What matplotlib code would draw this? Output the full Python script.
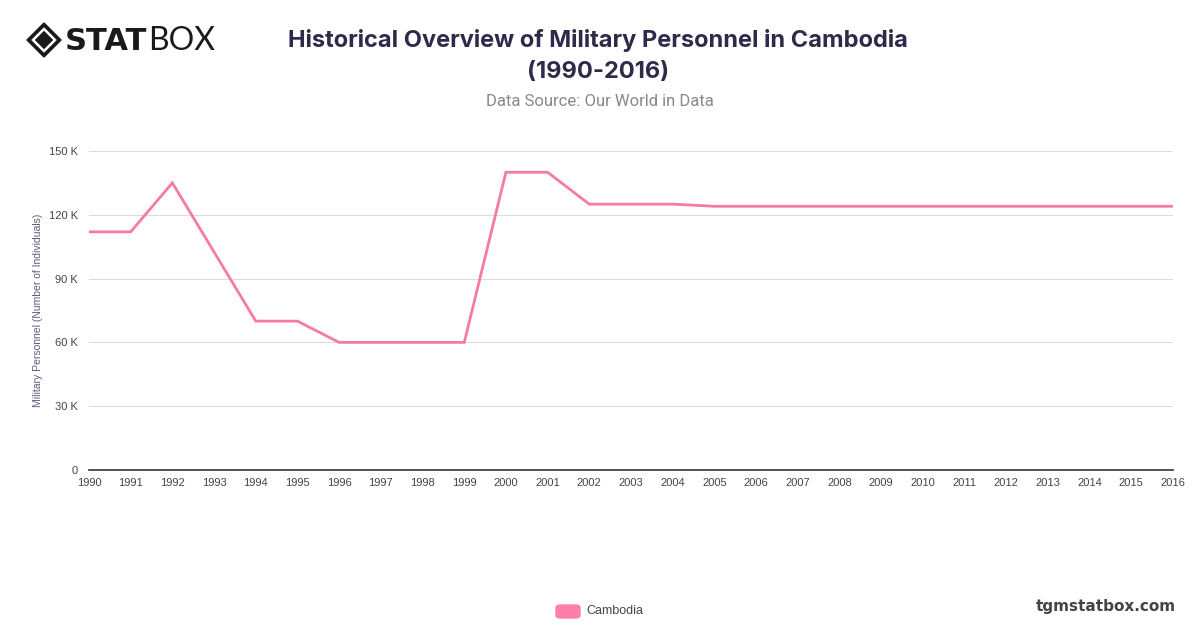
import matplotlib
matplotlib.use("Agg")
import matplotlib.pyplot as plt
from matplotlib.patches import Polygon, FancyBboxPatch
from matplotlib.ticker import FuncFormatter, MultipleLocator

years = list(range(1990, 2017))
personnel = [112000, 112000, 135000, 102500, 70000, 70000, 60000, 60000, 60000, 60000,
             140000, 140000, 125000, 125000, 125000, 124000, 124000, 124000, 124000, 124000,
             124000, 124000, 124000, 124000, 124000, 124000, 124000]
series_name = "Cambodia"
title = "Historical Overview of Military Personnel in Cambodia\n(1990-2016)"
subtitle = "Data Source: Our World in Data"
ylabel = "Military Personnel (Number of Individuals)"

W, H = 1200, 628
fig = plt.figure(figsize=(12, 6.28), dpi=100)
ax = fig.add_axes([89 / W, 1 - 470 / H, (1173 - 89) / W, (470 - 151) / H])

line_color = "#f57ba6"
ax.plot(years, personnel, color=line_color, lw=2.0, solid_joinstyle="miter", zorder=3)

ax.set_xlim(1990, 2016)
ax.set_ylim(0, 150000)
ax.set_xticks(years)
ax.yaxis.set_major_locator(MultipleLocator(30000))
ax.yaxis.set_major_formatter(FuncFormatter(lambda v, p: "0" if v == 0 else f"{int(v/1000)} K"))
ax.grid(axis="y", color="#dcdcdc", lw=0.8)
ax.set_axisbelow(True)
for s in ["top", "right", "left"]:
    ax.spines[s].set_visible(False)
ax.spines["bottom"].set_color("#333333")
ax.spines["bottom"].set_linewidth(1.2)
ax.tick_params(axis="both", length=0, labelsize=8, labelcolor="#444444", pad=6)
ax.tick_params(axis="y", pad=8)
for lbl in ax.get_xticklabels() + ax.get_yticklabels():
    lbl.set_family("Liberation Sans")
ax.set_ylabel(ylabel, fontsize=7.5, color="#5c5c7a", labelpad=4, family="Liberation Sans")

# Title & subtitle
fig.text(598 / W, 1 - 56 / H, title, ha="center", va="center", fontsize=17,
         fontweight="bold", color="#2e2b4a", linespacing=1.5, family="Inter")
fig.text(600 / W, 1 - 101 / H, subtitle, ha="center", va="center", fontsize=12,
         color="#888888", family="Roboto")

# Logo
def diamond(cxp, cyp, rad):
    return [(cxp - rad, cyp), (cxp, cyp + rad), (cxp + rad, cyp), (cxp, cyp - rad)]
cxp, cyp = 44, H - 40
fig.patches.append(Polygon([(x / W, y / H) for x, y in diamond(cxp, cyp, 17)],
                           closed=True, transform=fig.transFigure, color="#1a1a1a"))
fig.patches.append(Polygon([(x / W, y / H) for x, y in diamond(cxp, cyp, 11)],
                           closed=True, transform=fig.transFigure, fill=False,
                           ec="white", lw=1.8))
fig.patches.append(Polygon([(x / W, y / H) for x, y in diamond(cxp, cyp, 6)],
                           closed=True, transform=fig.transFigure, color="#1a1a1a"))
fig.text(65 / W, 1 - 41 / H, "STAT", ha="left", va="center", fontsize=22,
         fontweight="black", color="#1a1a1a", family="DejaVu Sans")
fig.text(148 / W, 1 - 41 / H, "BOX", ha="left", va="center", fontsize=23,
         fontweight="normal", color="#1a1a1a", family="Lato")

# Legend
fig.patches.append(FancyBboxPatch((556 / W, 1 - 618 / H), 24 / W, 13 / H,
                                  boxstyle="round,pad=0,rounding_size=0.004",
                                  transform=fig.transFigure, color="#ff7eab"))
fig.text(586 / W, 1 - 611 / H, series_name, ha="left", va="center", fontsize=9,
         color="#444444", family="Liberation Sans")
fig.text(1176 / W, 1 - 606 / H, "tgmstatbox.com", ha="right", va="center",
         fontsize=11, fontweight="bold", color="#444444")

fig.savefig("out.png", dpi=100, facecolor="white")
